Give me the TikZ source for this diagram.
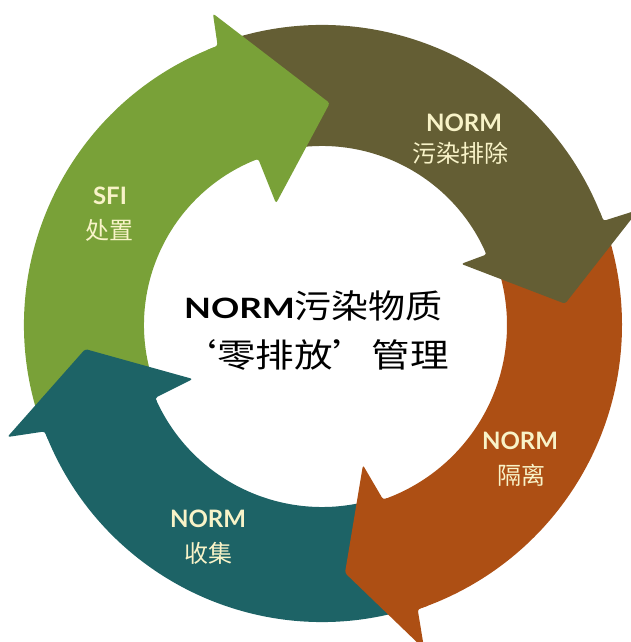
\documentclass[tikz,border=0pt]{standalone}
\usepackage{graphicx}
\usepackage{fontspec}
\setmainfont{Lato}
\newfontfamily\cjk{Noto Sans CJK SC}
\definecolor{sfigreen}{RGB}{121,161,56}
\definecolor{olive}{RGB}{100,94,52}
\definecolor{rust}{RGB}{173,79,20}
\definecolor{deepteal}{RGB}{29,99,102}
\definecolor{cream}{RGB}{248,243,200}

\begin{document}
\begin{tikzpicture}[x=1pt,y=1pt,
  arrowhead/.style={rounded corners=2.5pt},
  latinlabel/.style={text=cream, font=\fontsize{24}{26}\selectfont\bfseries, anchor=base, inner sep=0pt},
  cjklabel/.style={text=cream, font=\fontsize{24}{26}\selectfont\cjk, anchor=base, inner sep=0pt},
  titleline/.style={text=black, anchor=base east, inner sep=0pt}]
\useasboundingbox (0,0) rectangle (631,642);

\begin{scope}[shift={(322,317)}]
  % ---- ring bodies (each tail ends under the previous head) ----
  % SFI disposal
  \fill[sfigreen] (199.5:298) arc[start angle=199.5, end angle=110.5, radius=298]
    -- (111:178) arc[start angle=111, end angle=199.5, radius=178] -- cycle;
  % NORM decontamination
  \fill[olive] (109.5:300) arc[start angle=109.5, end angle=20.3, radius=300]
    -- (23.2:179) arc[start angle=23.2, end angle=109.5, radius=179] -- cycle;
  % NORM isolation
  \fill[rust] (20:300) arc[start angle=20, end angle=-71.4, radius=300]
    -- (-70.7:185) arc[start angle=-70.7, end angle=20, radius=185] -- cycle;
  % NORM collection
  \fill[deepteal] (-72:297) arc[start angle=-72, end angle=-159, radius=297]
    -- (-156.4:182) arc[start angle=-156.4, end angle=-72, radius=182] -- cycle;

  % ---- arrow heads, on top of the next body ----
  \fill[sfigreen, arrowhead] (113:298) arc[start angle=113, end angle=110.5, radius=298]
    -- (109.3:330) -- (88:222) -- (110.7:130) -- (111:178)
    arc[start angle=111, end angle=113, radius=178] -- cycle;
  \fill[olive, arrowhead] (22.5:300) arc[start angle=22.5, end angle=20.3, radius=300]
    -- (20:337) -- (5:244) -- (23.7:152) -- (23.2:179)
    arc[start angle=23.2, end angle=25.5, radius=179] -- cycle;
  \fill[rust, arrowhead] (-69:300) arc[start angle=-69, end angle=-71.4, radius=300]
    -- (-72.5:340) -- (-84.7:249) -- (-73.7:146) -- (-70.7:185)
    arc[start angle=-70.7, end angle=-68.5, radius=185] -- cycle;
  \fill[deepteal, arrowhead] (-157:297) arc[start angle=-157, end angle=-159, radius=297]
    -- (-160.4:334) -- (-174.2:238) -- (-157.3:140) -- (-156.4:182)
    arc[start angle=-156.4, end angle=-154.5, radius=182] -- cycle;
\end{scope}

% segment labels
\node[latinlabel] (lbA) at (464,510) {NORM};
\node[cjklabel]   (lbB) at (460,479) {污染排除};
\node[latinlabel] (lbC) at (520,192) {NORM};
\node[cjklabel]   (lbD) at (521,157) {隔离};
\node[latinlabel] (lbE) at (208,114) {NORM};
\node[cjklabel]   (lbF) at (208,79)  {收集};
\node[latinlabel] (lbG) at (110,437) {SFI};
\node[cjklabel]   (lbH) at (109,402) {处置};

% centre title
\node[titleline] (tA) at (443,323)
  {\scalebox{1.25}[1]{\fontsize{28}{32}\selectfont\bfseries NORM}%
   \scalebox{1.12}[1]{\fontsize{33}{38}\selectfont\cjk 污染物质}};
\node[titleline] (tB) at (449,274)
  {\scalebox{1.17}[1]{\fontsize{33}{38}\selectfont\cjk ‘零排放’管理}};
\end{tikzpicture}
\end{document}
